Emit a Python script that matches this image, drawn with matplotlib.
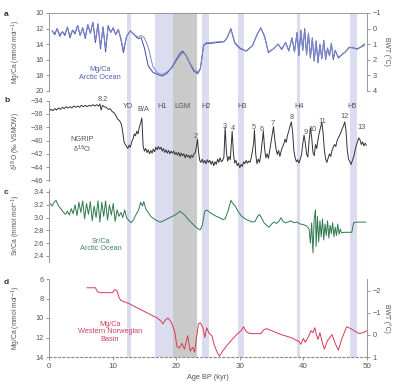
import matplotlib
matplotlib.use("Agg")
import matplotlib.pyplot as plt

plt.rcParams['font.family'] = ['Liberation Sans', 'DejaVu Sans']

# ---------------- data ----------------
age_a = [0.5,0.9,1.3,1.7,2.1,2.5,2.9,3.3,3.7,4.1,4.5,4.9,5.3,5.7,6.1,6.5,6.9,7.3,7.7,8.1,8.5,8.9,9.3,9.7,10.1,10.5,10.9,11.3,11.7,12.2,12.8,13.4,14.0,14.5,15.0,15.6,16.3,17.0,17.8,18.5,19.3,20.0,20.6,21.0,21.5,22.2,22.8,23.4,23.8,24.3,24.8,25.5,26.5,27.5,28.0,28.6,29.2,30.0,31.0,32.0,32.7,33.3,33.9,34.5,35.3,36.0,36.6,37.2,37.7,38.2,38.6,39.0,39.3,39.6,39.9,40.2,40.5,40.8,41.1,41.4,41.7,42.0,42.3,42.6,42.9,43.2,43.5,43.8,44.1,44.4,44.7,45.0,45.5,46.0,46.6,47.2,47.8,48.4,49.0,49.6]
mgca_arctic = [12.3,12.8,12.0,13.0,12.4,12.9,11.8,13.2,12.2,12.7,11.6,12.9,11.9,13.3,11.5,12.6,11.2,13.8,11.4,14.6,11.8,15.0,11.6,12.5,11.9,12.8,12.1,13.4,15.1,13.0,12.3,12.8,13.3,13.2,14.5,16.8,17.6,17.9,18.1,17.8,17.0,16.0,15.2,14.9,15.4,16.6,17.5,17.8,17.2,14.2,13.9,13.9,13.8,13.7,13.2,12.0,13.8,14.5,14.9,14.2,12.8,11.9,13.0,15.1,14.6,14.0,14.7,13.8,14.9,13.2,15.0,12.5,15.5,12.2,14.8,12.0,15.4,12.6,15.8,13.2,16.2,13.6,16.4,14.0,15.9,13.5,16.0,14.5,15.5,13.9,16.0,14.8,15.8,15.4,15.0,14.4,14.5,14.6,14.4,14.0]
bwt_arctic = [0.15,0.30,0.0,0.40,0.20,0.35,-0.10,0.50,0.10,0.25,-0.20,0.45,-0.05,0.55,-0.25,0.30,-0.40,0.75,-0.30,1.15,-0.10,1.30,-0.15,0.25,0.0,0.40,0.05,0.60,1.40,0.50,0.15,0.40,0.55,0.45,0.60,1.2,2.4,2.85,2.95,2.80,2.55,2.10,1.75,1.55,1.70,2.25,2.65,2.80,2.55,1.05,0.90,0.90,0.85,0.85,0.60,0.05,0.95,1.30,1.45,1.10,0.40,-0.05,0.55,1.50,1.30,1.00,1.30,0.90,1.40,0.60,1.50,0.30,1.70,0.15,1.40,0.10,1.65,0.35,1.85,0.65,2.05,0.80,2.15,1.10,1.90,0.80,1.95,1.30,1.75,1.00,1.90,1.40,1.85,1.70,1.50,1.25,1.20,1.35,1.20,1.10]

age_b = [0.0,0.3,0.6,0.9,1.2,1.5,1.8,2.1,2.4,2.7,3.0,3.3,3.6,3.9,4.2,4.5,4.8,5.1,5.4,5.7,6.0,6.3,6.6,6.9,7.2,7.5,7.8,8.0,8.2,8.4,8.7,9.0,9.3,9.6,9.9,10.2,10.5,10.8,11.1,11.4,11.6,11.8,12.0,12.2,12.4,12.6,12.8,13.0,13.2,13.4,13.6,13.8,14.0,14.2,14.4,14.6,14.8,15.0,15.2,15.4,15.6,15.8,16.0,16.2,16.4,16.6,16.8,17.0,17.2,17.4,17.6,17.8,18.0,18.2,18.4,18.6,18.8,19.0,19.2,19.4,19.6,19.8,20.0,20.2,20.4,20.6,20.8,21.0,21.2,21.4,21.6,21.8,22.0,22.2,22.4,22.6,22.8,23.0,23.2,23.35,23.5,23.7,23.9,24.1,24.3,24.5,24.7,24.9,25.1,25.3,25.5,25.7,25.9,26.1,26.3,26.5,26.7,26.9,27.1,27.3,27.5,27.7,27.9,28.1,28.3,28.5,28.8,29.0,29.2,29.4,29.6,29.8,30.0,30.2,30.4,30.6,30.8,31.0,31.2,31.4,31.6,31.8,32.0,32.2,32.3,32.5,32.7,32.9,33.1,33.3,33.5,33.7,33.9,34.1,34.3,34.5,34.7,34.9,35.1,35.3,35.5,35.7,35.9,36.1,36.3,36.5,36.7,36.9,37.1,37.3,37.5,37.7,37.9,38.1,38.3,38.5,38.7,38.9,39.1,39.3,39.5,39.7,39.9,40.1,40.3,40.5,40.7,40.9,41.1,41.3,41.5,41.7,41.9,42.1,42.3,42.5,42.7,42.9,43.1,43.3,43.5,43.7,43.9,44.1,44.3,44.5,44.7,44.9,45.1,45.3,45.5,45.7,45.9,46.1,46.3,46.5,46.7,46.9,47.1,47.3,47.5,47.7,47.9,48.1,48.3,48.5,48.7,48.9,49.1,49.3,49.5,49.7,49.9]
d18o_ngrip = [-35.6,-35.3,-35.5,-35.2,-35.4,-35.1,-35.3,-35.0,-35.2,-34.9,-35.1,-34.9,-35.1,-34.8,-35.0,-34.8,-35.0,-34.7,-34.9,-34.7,-34.9,-34.7,-34.8,-34.6,-34.8,-34.6,-34.8,-34.5,-35.4,-34.7,-34.9,-35.0,-35.3,-35.2,-35.6,-35.8,-36.2,-36.8,-37.0,-37.6,-38.8,-40.2,-40.6,-40.9,-41.2,-40.7,-41.0,-40.2,-39.8,-39.0,-39.3,-38.6,-39.0,-38.0,-37.4,-36.6,-40.8,-41.6,-41.2,-41.8,-41.4,-42.0,-41.5,-41.9,-41.3,-41.7,-41.0,-41.4,-40.9,-41.3,-41.0,-41.6,-41.2,-41.8,-41.4,-41.9,-41.5,-42.0,-41.6,-41.9,-41.6,-42.1,-41.8,-42.2,-41.8,-42.4,-41.9,-42.3,-42.0,-42.6,-42.1,-42.5,-42.2,-42.7,-42.2,-42.5,-42.0,-41.8,-40.8,-39.8,-41.6,-43.0,-43.3,-42.8,-43.4,-43.0,-43.5,-42.9,-43.3,-43.0,-43.6,-43.1,-43.8,-43.2,-43.6,-42.8,-43.3,-42.6,-43.2,-43.0,-42.5,-38.0,-41.8,-43.1,-42.4,-42.9,-38.6,-42.0,-43.4,-43.0,-43.8,-43.4,-44.1,-43.6,-43.9,-43.2,-43.5,-43.0,-43.4,-43.1,-43.3,-42.6,-41.5,-40.2,-38.4,-42.0,-43.5,-42.8,-43.3,-42.2,-40.4,-38.6,-41.2,-42.6,-42.0,-42.7,-41.5,-40.2,-39.0,-37.9,-39.8,-41.3,-42.1,-41.5,-42.4,-41.6,-41.0,-40.6,-39.8,-40.3,-39.2,-38.6,-37.8,-37.2,-38.6,-41.5,-42.6,-43.2,-42.9,-43.4,-42.8,-42.2,-40.5,-39.2,-40.4,-42.0,-42.5,-40.0,-38.1,-39.5,-41.8,-42.3,-40.6,-41.2,-39.8,-38.8,-38.0,-37.3,-38.9,-41.5,-42.8,-43.3,-42.6,-42.0,-42.4,-41.5,-41.0,-40.6,-40.9,-40.0,-39.6,-39.2,-38.8,-38.2,-37.8,-37.2,-38.5,-41.5,-42.8,-43.2,-43.6,-43.0,-42.5,-41.6,-40.8,-40.2,-39.6,-39.9,-40.6,-40.2,-40.8,-40.4,-40.7]

age_c = [0.2,0.5,0.8,1.1,1.4,1.7,2.0,2.3,2.6,2.9,3.2,3.5,3.8,4.1,4.4,4.7,5.0,5.3,5.6,5.9,6.2,6.5,6.8,7.1,7.4,7.7,8.0,8.3,8.6,8.9,9.2,9.5,9.8,10.1,10.4,10.7,11.0,11.3,11.6,11.9,12.2,12.5,12.9,13.3,13.7,14.1,14.4,14.7,14.9,15.2,15.6,16.0,16.5,17.0,17.5,18.0,18.6,19.2,19.8,20.3,20.6,21.0,21.5,22.0,22.5,23.0,23.5,23.8,24.1,24.5,24.8,25.3,25.8,26.3,26.8,27.3,27.7,28.2,28.6,28.9,29.3,29.7,30.2,30.6,31.0,31.5,32.0,32.4,32.8,33.1,33.4,33.8,34.2,34.6,35.0,35.4,35.8,36.2,36.5,36.8,37.2,37.6,38.0,38.5,39.0,39.5,40.0,40.5,40.9,41.1,41.3,41.5,41.7,41.9,42.0,42.2,42.4,42.6,42.8,43.0,43.2,43.4,43.6,43.8,44.0,44.2,44.4,44.6,44.8,45.0,45.2,45.4,45.6,45.8,46.0,46.4,47.0,47.6,47.9,48.5,49.2,49.8]
srca_arctic = [3.22,3.18,3.24,3.27,3.20,3.16,3.12,3.08,3.05,3.10,3.04,3.14,3.06,3.20,3.03,3.24,3.08,3.26,2.98,3.22,3.05,3.25,2.95,3.18,3.00,3.26,2.93,3.24,3.02,3.26,2.96,3.20,3.04,3.22,2.94,3.12,3.02,3.08,3.00,3.12,3.00,2.96,2.92,2.97,3.05,3.12,3.24,3.18,3.25,3.14,3.08,3.02,2.98,2.95,2.93,2.95,2.98,3.01,3.04,3.07,3.10,3.07,3.02,2.96,2.91,2.86,2.82,2.81,2.88,3.10,3.12,3.08,3.05,3.02,3.00,2.97,2.98,3.12,3.27,3.22,3.18,3.10,3.03,3.00,2.97,2.95,2.93,2.94,3.02,3.05,3.00,2.92,2.88,2.85,2.90,2.93,2.91,2.95,3.00,2.94,2.92,2.93,2.95,2.92,2.93,2.90,2.89,2.87,2.82,2.60,2.92,2.45,2.98,3.12,2.55,3.02,2.62,2.95,2.70,2.98,2.65,2.90,2.72,2.95,2.68,2.88,2.75,2.92,2.70,2.85,2.72,2.90,2.74,2.82,2.76,2.77,2.77,2.77,2.92,2.93,2.93,2.93]

age_d = [6.0,7.3,7.6,8.0,9.5,10.0,10.3,10.7,11.0,11.3,12.5,14.0,15.5,17.0,17.6,17.9,18.3,18.7,19.2,19.5,19.8,20.1,20.5,20.9,21.3,21.8,22.2,22.6,22.9,23.2,23.5,23.8,24.2,24.5,24.8,25.2,25.6,26.0,26.5,26.8,27.3,28.0,28.8,29.5,30.2,30.6,31.0,31.6,32.5,33.3,33.8,34.2,35.0,36.5,38.0,39.3,39.6,40.0,40.3,40.8,41.2,41.5,41.8,42.0,42.3,42.6,43.0,43.3,43.8,44.5,45.0,45.5,46.0,46.8,47.5,48.2,48.8,49.4,50.0]
mgca_norw = [6.9,6.9,7.3,7.4,7.4,7.4,7.1,7.2,7.9,8.2,8.5,9.0,9.5,10.0,10.3,10.6,10.2,10.0,10.4,10.9,11.5,12.9,13.1,12.6,13.2,11.8,13.4,13.0,13.5,12.0,10.6,10.5,11.0,12.0,11.0,11.6,11.8,12.8,13.6,13.9,13.4,12.8,12.2,11.7,11.3,10.9,11.4,11.6,11.6,11.6,11.2,11.1,11.3,11.7,12.0,12.4,12.7,12.1,12.5,11.9,11.3,11.5,11.0,11.6,12.2,11.5,12.6,13.2,12.3,11.7,12.6,13.3,12.2,10.9,11.1,11.4,11.6,11.5,11.3]

band_names = ['YD', 'H1', 'LGM', 'H2', 'H3', 'H4', 'H5']
band_start = [12.2, 16.7, 19.5, 24.1, 29.7, 39.0, 47.3]
band_end = [12.9, 19.5, 23.3, 25.2, 30.7, 39.5, 48.4]

event_labels = ['8.2', 'YD', 'B/A', 'H1', 'LGM', 'H2', 'H3', 'H4', 'H5']
event_ages = [8.5, 12.4, 14.8, 17.8, 21.0, 24.7, 30.3, 39.3, 47.6]
is_labels = ['2', '3', '4', '5', '6', '7', '8', '9', '10', '11', '12', '13']
is_ages = [23.1, 27.7, 28.9, 32.2, 33.5, 35.2, 38.1, 40.4, 41.5, 42.9, 46.4, 49.1]
is_vals = [-39.9, -38.4, -38.7, -38.5, -38.8, -37.9, -37.0, -39.3, -38.8, -37.6, -36.9, -38.5]

# ---------------- layout ----------------
W, H = 400, 386
fig = plt.figure(figsize=(W / 100, H / 100), dpi=100)
x0, x1 = 49, 367
def rect(top, bottom):
    return [x0 / W, 1 - bottom / H, (x1 - x0) / W, (bottom - top) / H]

grey = '#8a8a8a'
tcol = '#555555'
fs = 5.3
lfs = 4.9

bg = fig.add_axes(rect(13, 357))
bg.set_xlim(0, 50)
bg.set_ylim(0, 1)
bg.axis('off')
for n, s, e in zip(band_names, band_start, band_end):
    col = '#cacaca' if n == 'LGM' else '#dcdcf0'
    bg.axvspan(s, e, color=col, lw=0)
bg.axvline(50, color='#d0d0d8', lw=0.8)

axa = fig.add_axes(rect(13, 90.7))
axb = fig.add_axes(rect(100.7, 181))
axc = fig.add_axes(rect(188.8, 262.4))
axd = fig.add_axes(rect(279, 357))

def style(ax):
    ax.set_facecolor('none')
    ax.set_xlim(0, 50)
    for s in ['top', 'right', 'bottom']:
        ax.spines[s].set_visible(False)
    ax.spines['left'].set_color(grey)
    ax.spines['left'].set_linewidth(0.6)
    ax.tick_params(axis='y', colors=grey, labelcolor=tcol, labelsize=fs, length=2.5, width=0.6, pad=1.5)
    ax.tick_params(axis='x', bottom=False, labelbottom=False)

for ax in (axa, axb, axc, axd):
    style(ax)

ylx = -0.083

# panel a
axa.plot(age_a, mgca_arctic, color='#3d4d9e', lw=0.7)
axa.set_ylim(20, 10)
axa.set_yticks([10, 12, 14, 16, 18, 20])
axa.spines['top'].set_visible(True)
axa.spines['top'].set_color(grey)
axa.spines['top'].set_linewidth(0.6)
axa.set_ylabel('Mg/Ca (mmol mol$^{-1}$)', fontsize=lfs, color=tcol)
axa.yaxis.set_label_coords(ylx, 0.5)
axa2 = axa.twinx()
axa2.set_facecolor('none')
axa2.plot(age_a, bwt_arctic, color='#7f86cc', lw=0.7)
axa2.set_ylim(4, -1)
axa2.set_yticks([-1, 0, 1, 2, 3, 4])
for s in ['top', 'left', 'bottom']:
    axa2.spines[s].set_visible(False)
axa2.spines['right'].set_color(grey)
axa2.spines['right'].set_linewidth(0.6)
axa2.tick_params(axis='y', colors=grey, labelcolor=tcol, labelsize=fs, length=2.5, width=0.6, pad=1.5)
axa2.set_ylabel('BWT (°C)', fontsize=lfs, color=tcol, rotation=270)
axa2.yaxis.set_label_coords(1.075, 0.5)
axa.text(8.0, 17.8, 'Mg/Ca\nArctic Ocean', color='#5262b4', fontsize=fs, ha='center', va='center', linespacing=1.1)

# panel b
axb.plot(age_b, d18o_ngrip, color='#333333', lw=0.7)
axb.set_ylim(-46.1, -34)
axb.set_yticks([-34, -36, -38, -40, -42, -44, -46])
axb.set_ylabel('δ$^{18}$O (‰ VSMOW)', fontsize=lfs, color=tcol)
axb.yaxis.set_label_coords(ylx, 0.5)
axb.text(5.2, -40.8, 'NGRIP\nδ$^{18}$O', color='#555555', fontsize=fs, ha='center', va='center', linespacing=1.1)
for lab, a in zip(event_labels, event_ages):
    y = -33.75 if lab == '8.2' else (-35.4 if lab == 'B/A' else -34.9)
    axb.text(a, y, lab, fontsize=fs, color=tcol, ha='center', va='center')
for lab, a, v in zip(is_labels, is_ages, is_vals):
    axb.text(a, v, lab, fontsize=fs, color=tcol, ha='center', va='bottom')

# panel c
axc.plot(age_c, srca_arctic, color='#2f7a4e', lw=0.7)
axc.set_ylim(2.3, 3.45)
axc.set_yticks([2.4, 2.6, 2.8, 3.0, 3.2, 3.4])
axc.set_yticklabels(['2.4', '2.6', '2.8', '3.0', '3.2', '3.4'])
axc.set_ylabel('Sr/Ca (mmol mol$^{-1}$)', fontsize=lfs, color=tcol)
axc.yaxis.set_label_coords(ylx, 0.5)
axc.text(8.1, 2.57, 'Sr/Ca\nArctic Ocean', color='#3f8a6a', fontsize=fs, ha='center', va='center', linespacing=1.1)

# panel d
axd.plot(age_d, mgca_norw, color='#d63a52', lw=0.7)
axd.set_ylim(14, 6)
axd.set_yticks([6, 8, 10, 12, 14])
axd.set_ylabel('Mg/Ca (mmol mol$^{-1}$)', fontsize=lfs, color=tcol)
axd.yaxis.set_label_coords(ylx, 0.5)
axd.spines['bottom'].set_visible(True)
axd.spines['bottom'].set_color(grey)
axd.spines['bottom'].set_linestyle((0, (2, 2)))
axd.spines['bottom'].set_linewidth(0.8)
axd.tick_params(axis='x', bottom=True, labelbottom=True, colors=grey, labelcolor=tcol, labelsize=fs + 0.5, length=2.5, width=0.6, pad=1.5)
axd.set_xticks([0, 10, 20, 30, 40, 50])
axd.set_xlabel('Age BP (kyr)', fontsize=fs, color=tcol, labelpad=3)
axd.text(9.6, 11.4, 'Mg/Ca\nWestern Norwegian\nBasin', color='#d04060', fontsize=fs, ha='center', va='center', linespacing=1.1)
axd2 = axd.twinx()
axd2.set_facecolor('none')
axd2.set_ylim(1, -2.545)
axd2.set_yticks([-2, -1, 0, 1])
for s in ['top', 'left', 'bottom']:
    axd2.spines[s].set_visible(False)
axd2.spines['right'].set_color(grey)
axd2.spines['right'].set_linewidth(0.6)
axd2.tick_params(axis='y', colors=grey, labelcolor=tcol, labelsize=fs, length=2.5, width=0.6, pad=1.5)
axd2.set_ylabel('BWT (°C)', fontsize=lfs, color=tcol, rotation=270)
axd2.yaxis.set_label_coords(1.075, 0.5)

for lab, yp in zip(['a', 'b', 'c', 'd'], [14, 101, 193, 282]):
    fig.text(4 / W, 1 - yp / H, lab, fontsize=6, fontweight='bold', color='#333333', ha='left', va='center')

fig.savefig('out.png', dpi=100, facecolor='white')
